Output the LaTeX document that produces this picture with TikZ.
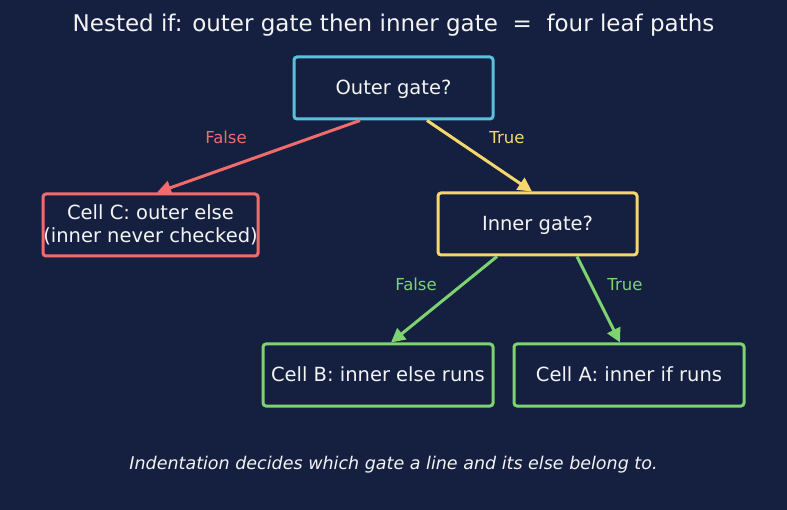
\documentclass[tikz,border=0pt]{standalone}
\usepackage{fontspec}
\setmainfont{DejaVu Sans}
\usetikzlibrary{arrows.meta}
\definecolor{bg}{HTML}{152041}
\definecolor{ccyan}{HTML}{5BC0DE}
\definecolor{cred}{HTML}{F26B6B}
\definecolor{cyel}{HTML}{F5D76E}
\definecolor{cgreen}{HTML}{7ED371}
\definecolor{txt}{HTML}{F4F4F4}
\begin{document}
\begin{tikzpicture}[x=1pt,y=-1pt,
  box/.style={draw, line width=3pt, rounded corners=3pt, fill=bg, text=txt,
    minimum width=#1, minimum height=62pt, inner sep=0pt, align=center,
    font=\fontsize{19.5}{23}\selectfont},
  box/.default=199pt,
  oneline/.style={text height=18.5pt, text depth=4.7pt},
  conn/.style={line width=3pt, -{Triangle[length=14pt,width=14pt]}},
  lbl/.style={font=\fontsize{16.5}{19}\selectfont}]
\fill[bg] (0,0) rectangle (787,510);
\useasboundingbox (0,0) rectangle (787,510);
\node[text=txt, font=\fontsize{23}{27}\selectfont] (title) at (393.5,25.5) {Nested if: outer gate then inner gate \ = \ four leaf paths};
\node[box, oneline, draw=ccyan] (outer) at (393.5,88) {Outer gate?};
\node[box=215pt, draw=cred] (cellc) at (150.5,225) {Cell C: outer else\\(inner never checked)};
\node[box, oneline, draw=cyel] (inner) at (537.5,224) {Inner gate?};
\node[box=230pt, oneline, draw=cgreen] (cellb) at (378,375) {Cell B: inner else runs};
\node[box=230pt, oneline, draw=cgreen] (cella) at (629,375) {Cell A: inner if runs};
\draw[conn, cred] ([xshift=-33.5pt]outer.south) -- ([xshift=6.5pt]cellc.north);
\draw[conn, cyel] ([xshift=33.5pt]outer.south) -- ([xshift=-5.5pt]inner.north);
\draw[conn, cgreen] ([xshift=-40.5pt]inner.south) -- ([xshift=13pt]cellb.north);
\draw[conn, cgreen] ([xshift=39.5pt]inner.south) -- ([xshift=-9pt]cella.north);
\node[lbl, text=cred] (l1) at (226,137.5) {False};
\node[lbl, text=cyel] (l2) at (507,137.5) {True};
\node[lbl, text=cgreen] (l3) at (416,284.5) {False};
\node[lbl, text=cgreen] (l4) at (625,284.5) {True};
\node[text=txt, font=\fontsize{17.5}{21}\selectfont\itshape] (foot) at (393.5,465) {Indentation decides which gate a line and its else belong to.};
\end{tikzpicture}
\end{document}
